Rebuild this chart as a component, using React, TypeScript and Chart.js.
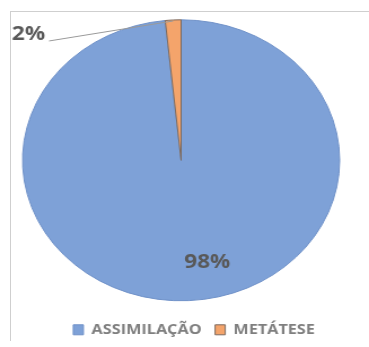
import { useEffect, useRef } from 'react';
import { Chart, registerables } from 'chart.js';
Chart.register(...registerables);

const categories = ['ASSIMILAÇÃO', 'METÁTESE'];
const values = [98.4, 1.6];
const percentLabels = ['98%', '2%'];
const colors = ['#7ea1d7', '#f4a46b'];
const borderColors = ['#6f91c8', '#7d6a5e'];

// the reference picture is stretched horizontally; the canvas is drawn narrower and stretched by CSS
const SX = 159 / 141;
const W = 369;
const H = 347;
const CW = Math.round(W / SX);

export default function App() {
  const ref = useRef<HTMLCanvasElement>(null);
  useEffect(() => {
    const canvas = ref.current!;
    const labelPlugin = {
      id: 'pctLabels',
      afterLayout(chart: any) {
        const lg = chart.legend;
        if (lg) { lg.left += 11.5; lg.right += 11.5; }
      },
      afterDatasetsDraw(chart: any) {
        const ctx = chart.ctx;
        const arcs: any[] = chart.getDatasetMeta(0).data;
        ctx.save();
        ctx.fillStyle = '#595959';
        ctx.font = 'bold 20px "Open Sans"';
        ctx.textBaseline = 'middle';
        {
          const a = arcs[0];
          const mid = (a.startAngle + a.endAngle) / 2;
          const r = a.outerRadius * 0.73;
          const x = a.x + r * Math.cos(mid) + 18;
          const y = a.y + r * Math.sin(mid);
          ctx.textAlign = 'center';
          ctx.fillText(percentLabels[0], x, y);
        }
        {
          const a = arcs[1];
          const mid = (a.startAngle + a.endAngle) / 2;
          const r = a.outerRadius;
          const px = a.x + r * Math.cos(mid);
          const py = a.y + r * Math.sin(mid) + 1;
          const lx = px - 110;
          const ly = py + 20;
          ctx.strokeStyle = '#9a9a9a';
          ctx.lineWidth = 1;
          ctx.beginPath();
          ctx.moveTo(px, py);
          ctx.lineTo(lx, ly);
          ctx.stroke();
          ctx.textAlign = 'right';
          ctx.fillText(percentLabels[1], lx - 3.5, ly - 6.5);
        }
        ctx.restore();
      },
    };
    const chart = new Chart(canvas, {
      type: 'pie',
      data: {
        labels: categories,
        datasets: [{
          data: values,
          backgroundColor: colors,
          borderColor: borderColors,
          borderWidth: 1,
        }],
      },
      options: {
        responsive: false,
        devicePixelRatio: 1,
        animation: false,
        layout: { padding: { top: 10, left: 19.5, right: 25.5, bottom: 0 } },
        plugins: {
          legend: {
            position: 'bottom',
            labels: {
              boxWidth: 9,
              boxHeight: 10,
              padding: 12,
              color: '#7f7f7f',
              font: { family: 'Open Sans', size: 14.4, weight: 'bold' },
            },
          },
          tooltip: { enabled: false },
        },
      },
      plugins: [labelPlugin],
    } as any);
    return () => chart.destroy();
  }, []);
  return (
    <div style={{ position: 'absolute', left: 0, top: 0, width: W, height: H, background: '#fff' }}>
      <div style={{ position: 'absolute', left: 10, top: 11, width: 359, height: 329, borderTop: '1px solid #cfcfcf', borderLeft: '1px solid #cfcfcf' }} />
      <canvas ref={ref} width={CW} height={H} style={{ position: 'absolute', left: 0, top: 0, width: W, height: H }} />
    </div>
  );
}
